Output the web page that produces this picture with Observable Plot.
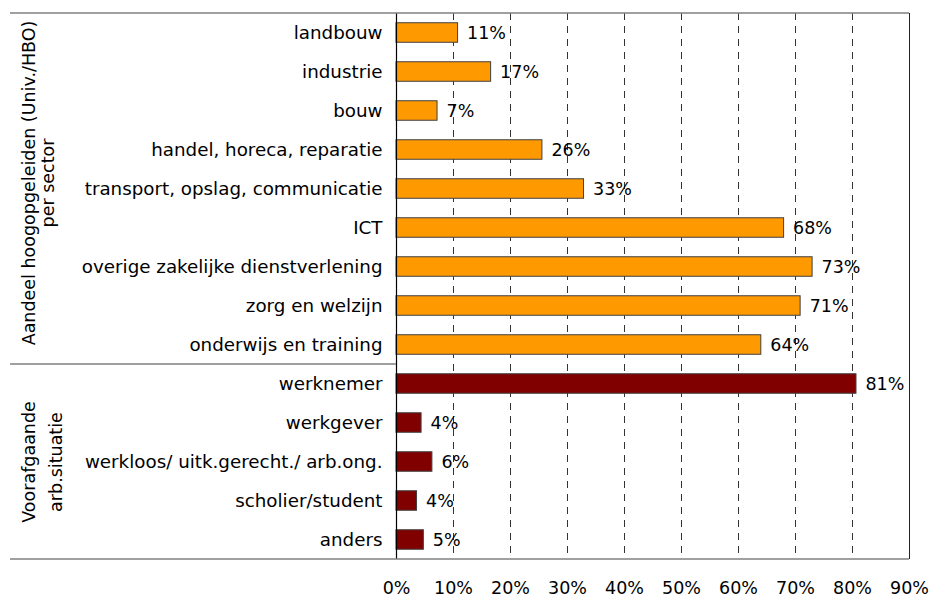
<!DOCTYPE html>
<html>
<head>
<meta charset="utf-8">
<script src="https://cdn.jsdelivr.net/npm/d3@7"></script>
<script src="https://cdn.jsdelivr.net/npm/@observablehq/plot@0.6"></script>
<style>
  html, body { margin: 0; padding: 0; background: #fff; }
  svg { display: block; }
</style>
</head>
<body>
<div id="chart"></div>
<script>
// ---- data ----
const categories = [
  "landbouw",
  "industrie",
  "bouw",
  "handel, horeca, reparatie",
  "transport, opslag, communicatie",
  "ICT",
  "overige zakelijke dienstverlening",
  "zorg en welzijn",
  "onderwijs en training",
  "werknemer",
  "werkgever",
  "werkloos/ uitk.gerecht./ arb.ong.",
  "scholier/student",
  "anders"
];
const values = [10.8, 16.6, 7.2, 25.6, 32.9, 68.0, 73.0, 70.9, 64.0, 80.7, 4.4, 6.3, 3.6, 4.8];
const groups = ["sector","sector","sector","sector","sector","sector","sector","sector","sector",
                "situatie","situatie","situatie","situatie","situatie"];
const groupNames = ["sector", "situatie"];
const groupColors = ["#FF9900", "#800000"];
const groupTitleLine1 = ["Aandeel hoogopgeleiden (Univ./HBO)", "Voorafgaande"];
const groupTitleLine2 = ["per sector", "arb.situatie"];
const groupCenters = ["transport, opslag, communicatie", "werkloos/ uitk.gerecht./ arb.ong."];
const xTicks = [0, 0.1, 0.2, 0.3, 0.4, 0.5, 0.6, 0.7, 0.8, 0.9];
const gridTicks = [0.1, 0.2, 0.3, 0.4, 0.5, 0.6, 0.7, 0.8];

const data = categories.map((c, i) => ({category: c, value: values[i] / 100, group: groups[i]}));
const titles = groupNames.map((g, i) => ({group: g, center: groupCenters[i], l1: groupTitleLine1[i], l2: groupTitleLine2[i]}));

const FONT = "'DejaVu Sans', Verdana, sans-serif";
const pct = d3.format(".0%");

const chart = Plot.plot({
  width: 937,
  height: 597,
  marginTop: 13,
  marginBottom: 38,
  marginLeft: 396,
  marginRight: 28,
  style: {fontFamily: FONT, fontSize: "17.5px", color: "#000", background: "#fff", overflow: "visible"},
  x: {domain: [0, 0.9], ticks: xTicks, tickFormat: pct, tickSize: 0, tickPadding: 22, label: null},
  y: {domain: categories, paddingInner: 0.5, paddingOuter: 0.25, tickSize: 0, tickPadding: 14, label: null, round: false},
  color: {domain: groupNames, range: groupColors},
  marks: [
    Plot.ruleX(gridTicks, {stroke: "#333", strokeWidth: 1, strokeDasharray: "7,6"}),
    Plot.barX(data, {x: "value", y: "category", fill: "group", stroke: "#404040", strokeWidth: 1}),
    Plot.text(data, {x: "value", y: "category", text: d => pct(d.value), textAnchor: "start", dx: 9, fill: "#000"}),
    Plot.ruleX([0], {stroke: "#000", strokeWidth: 1.2}),
    Plot.ruleX([0.9], {stroke: "#222", strokeWidth: 1}),
    // rotated group titles
    Plot.text(titles.filter(t => t.group === "sector"), {y: "center", text: "l1", frameAnchor: "left", rotate: -90, lineAnchor: "bottom", textAnchor: "middle", dx: 34 - 396, dy: -6, fill: "#000"}),
    Plot.text(titles.filter(t => t.group === "sector"), {y: "center", text: "l2", frameAnchor: "left", rotate: -90, lineAnchor: "bottom", textAnchor: "middle", dx: 53 - 396, dy: -6, fill: "#000"}),
    Plot.text(titles.filter(t => t.group === "situatie"), {y: "center", text: "l1", frameAnchor: "left", rotate: -90, lineAnchor: "bottom", textAnchor: "middle", dx: 34 - 396, fill: "#000"}),
    Plot.text(titles.filter(t => t.group === "situatie"), {y: "center", text: "l2", frameAnchor: "left", rotate: -90, lineAnchor: "bottom", textAnchor: "middle", dx: 61 - 396, fill: "#000"})
  ]
});

// category labels are set a little larger than the other texts
const svg = d3.select(chart);
svg.selectAll('g[aria-label="y-axis tick label"] text, g[aria-label="y-axis"] text')
  .style("font-size", "18.3px");

// frame lines spanning into the label area (top, group separator, bottom)
const xs = chart.scale("x"), ys = chart.scale("y");
const half = (ys.step - ys.bandwidth) / 2;
const frameLeft = 10;
const frameRight = xs.apply(0.9);
const topY = ys.apply(categories[0]) - half;
const bottomY = ys.apply(categories[categories.length - 1]) + ys.bandwidth + half;
const lastSector = categories[groups.lastIndexOf("sector")];
const sepY = ys.apply(lastSector) + ys.bandwidth + half;
const lines = [
  [frameLeft, frameRight, topY],
  [frameLeft, xs.apply(0), sepY],
  [frameLeft, frameRight, bottomY]
];
svg.append("g").selectAll("line").data(lines).join("line")
  .attr("x1", d => d[0]).attr("x2", d => d[1])
  .attr("y1", d => d[2]).attr("y2", d => d[2])
  .attr("stroke", "#808080").attr("stroke-width", 1.6);

document.getElementById("chart").appendChild(chart);
</script>
</body>
</html>
